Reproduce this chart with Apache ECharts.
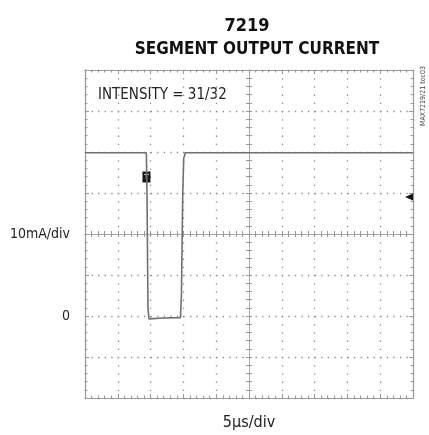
<!DOCTYPE html>
<html>
<head>
<meta charset="utf-8">
<script src="https://cdn.jsdelivr.net/npm/echarts@6/dist/echarts.min.js"></script>
<style>
  html, body { margin: 0; padding: 0; background: #fff; }
  #chart { width: 429px; height: 435px; }
</style>
</head>
<body>
<div id="chart"></div>
<script>
var chart = echarts.init(document.getElementById('chart'));

// trace: time (us) and segment current (mA)
var timeUs = [0, 9.35, 9.45, 9.6, 9.75, 12, 14.55, 14.7, 14.9, 15.05, 15.3, 50];
var currentMa = [39.8, 39.8, 30, 2, -0.7, -0.5, -0.4, 5, 30, 38.5, 39.8, 39.8];
// markers on the screen
var triggerMark = [9.37, 33.9];
var levelMark = [50, 29];

var sans = "'Liberation Sans Narrow', 'DejaVu Sans Condensed', sans-serif";
var frameColor = '#9a9a9a';
var dotColor = '#8a8a8a';

var traceData = timeUs.map(function (t, i) { return [t, currentMa[i]]; });

function edgeX(pos) {
    return {
        type: 'value', gridIndex: 0, min: 0, max: 50, interval: 5, position: pos,
        axisLine: { onZero: false, lineStyle: { color: frameColor, width: 1.2 } },
        axisTick: { show: true, inside: true, length: 4, lineStyle: { color: frameColor } },
        minorTick: { show: true, splitNumber: 5, length: 2.5, lineStyle: { color: frameColor } },
        axisLabel: { show: false },
        splitLine: { show: false }
    };
}
function edgeY(pos) {
    return {
        type: 'value', gridIndex: 0, min: -20, max: 60, interval: 10, position: pos,
        axisLine: { onZero: false, lineStyle: { color: frameColor, width: 1.2 } },
        axisTick: { show: true, inside: true, length: 4, lineStyle: { color: frameColor } },
        minorTick: { show: true, splitNumber: 5, length: 2.5, lineStyle: { color: frameColor } },
        axisLabel: { show: false },
        splitLine: { show: false }
    };
}
function centerX(inside) {
    return {
        type: 'value', gridIndex: 0, min: 0, max: 50, interval: 5, position: 'bottom',
        axisLine: { onZero: true, onZeroAxisIndex: 2, lineStyle: { color: '#aaaaaa', width: 1 } },
        axisTick: { show: true, inside: inside, length: 3, lineStyle: { color: '#999' } },
        minorTick: { show: true, splitNumber: 5, length: 3, lineStyle: { color: '#999' } },
        axisLabel: { show: false },
        splitLine: { show: false }
    };
}
function centerY(inside) {
    return {
        type: 'value', gridIndex: 0, min: -20, max: 60, interval: 10, position: 'left',
        axisLine: { onZero: true, onZeroAxisIndex: 4, lineStyle: { color: '#aaaaaa', width: 1 } },
        axisTick: { show: true, inside: inside, length: 3, lineStyle: { color: '#999' } },
        minorTick: { show: true, splitNumber: 5, length: 3, lineStyle: { color: '#999' } },
        axisLabel: { show: false },
        splitLine: { show: false }
    };
}

var xMain = edgeX('bottom');
xMain.splitLine = { show: true, lineStyle: { color: dotColor, width: 1.3, type: [1.3, 6.9] } };
xMain.name = '5µs/div';
xMain.nameLocation = 'middle';
xMain.nameGap = 17;
xMain.nameTextStyle = { fontFamily: sans, fontSize: 16, color: '#222', verticalAlign: 'top' };

var yMain = edgeY('left');
yMain.splitLine = { show: true, lineStyle: { color: dotColor, width: 1.3, type: [1.3, 5.26] } };
yMain.axisLabel = {
    show: true, margin: 15, fontFamily: sans, fontSize: 14, color: '#222',
    formatter: function (v) {
        if (v === 0) return '0';
        if (v === 20) return '10mA/div';
        return '';
    }
};

var option = {
    backgroundColor: '#fff',
    animation: false,
    title: [{
        text: '7219', left: 242, top: 12, textAlign: 'center',
        textStyle: { fontFamily: sans, fontWeight: 'bold', fontSize: 18, color: '#111' }
    }, {
        text: 'SEGMENT OUTPUT CURRENT', left: 252, top: 36, textAlign: 'center',
        textStyle: { fontFamily: sans, fontWeight: 'bold', fontSize: 17, color: '#111' }
    }],
    grid: { left: 85, top: 70, width: 328, height: 328, containLabel: false, outerBoundsMode: 'none' },
    xAxis: [xMain, edgeX('top'), centerX(true), centerX(false),
        { type: 'value', gridIndex: 0, min: -1, max: 1, show: false }],
    yAxis: [yMain, edgeY('right'),
        { type: 'value', gridIndex: 0, min: -1, max: 1, show: false },
        centerY(true), centerY(false)],
    graphic: [{
        type: 'text', left: 98, top: 88,
        style: { text: 'INTENSITY = 31/32', font: '15px ' + sans, fill: '#222' }
    }, {
        type: 'text', x: 420, y: 126, rotation: Math.PI / 2,
        style: { text: 'MAX7219/21 toc03', font: '7px ' + sans, fill: '#444' }
    }],
    series: [{
        type: 'line',
        xAxisIndex: 0,
        yAxisIndex: 0,
        data: traceData,
        showSymbol: false,
        lineStyle: { color: '#707070', width: 1.6 },
        z: 5,
        markPoint: {
            silent: true,
            data: [{
                coord: triggerMark, symbol: 'rect', symbolSize: [8, 11],
                itemStyle: { color: '#151515' },
                label: { show: true, formatter: 'T', color: '#fff', fontSize: 8, fontWeight: 'bold' }
            }, {
                coord: levelMark, symbol: 'triangle', symbolSize: [7, 8], symbolRotate: 90,
                symbolOffset: [-4, 0],
                itemStyle: { color: '#151515' },
                label: { show: false }
            }]
        }
    }]
};

chart.setOption(option);
</script>
</body>
</html>
